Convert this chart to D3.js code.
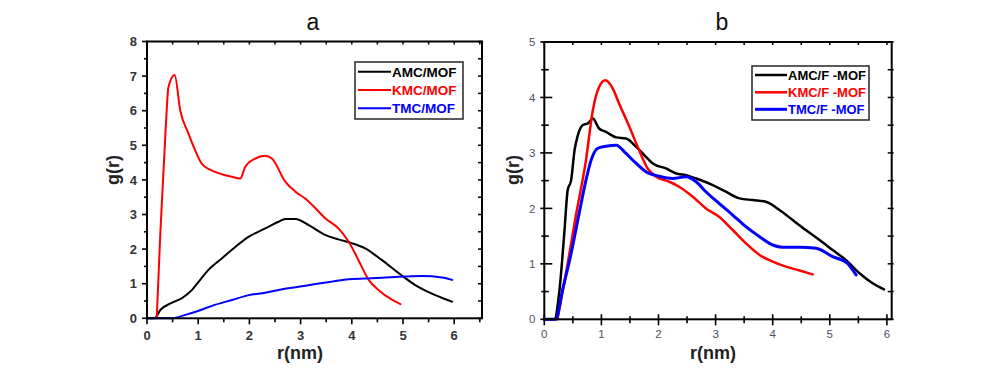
<!DOCTYPE html>
<html><head><meta charset="utf-8">
<script src="https://cdn.jsdelivr.net/npm/d3@7"></script>
<style>body{margin:0;background:#fff;}svg{display:block;font-family:Arial,"Liberation Sans",sans-serif;}</style>
</head><body>
<svg id="c" width="1000" height="369"></svg>
<script>
// ---- Panel a data ----
const amcMOF = [[0,0],[0.15,0],[0.26,0.24],[0.46,0.43],[0.68,0.58],[0.88,0.82],[1.01,1.06],[1.2,1.40],[1.46,1.73],[1.73,2.07],[1.99,2.36],[2.31,2.60],[2.57,2.79],[2.70,2.87],[2.90,2.87],[3.16,2.69],[3.48,2.41],[3.74,2.28],[4.0,2.17],[4.26,2.02],[4.59,1.68],[4.92,1.30],[5.24,0.96],[5.63,0.67],[5.96,0.48]];
const kmcMOF = [[0.19,0],[0.26,2.45],[0.36,5.34],[0.42,6.69],[0.54,7.03],[0.65,6.0],[0.81,5.34],[0.94,4.86],[1.07,4.47],[1.33,4.23],[1.66,4.09],[1.82,4.04],[1.92,4.38],[2.08,4.59],[2.31,4.70],[2.44,4.62],[2.70,3.95],[2.90,3.66],[3.09,3.46],[3.29,3.18],[3.48,2.89],[3.74,2.60],[3.94,2.21],[4.13,1.68],[4.33,1.11],[4.52,0.82],[4.79,0.53],[4.95,0.41]];
const tmcMOF = [[0,0],[0.49,0],[0.75,0.10],[1.01,0.22],[1.27,0.36],[1.66,0.53],[1.99,0.67],[2.31,0.74],[2.64,0.84],[2.96,0.91],[3.29,0.99],[3.61,1.06],[3.94,1.13],[4.26,1.15],[4.59,1.17],[4.92,1.20],[5.37,1.22],[5.76,1.18],[5.96,1.11]];
// ---- Panel b data ----
const amcFMOF = [[0,0],[0.175,0],[0.26,0.47],[0.35,1.55],[0.41,2.33],[0.47,2.51],[0.53,3.05],[0.58,3.29],[0.67,3.50],[0.76,3.53],[0.85,3.62],[0.96,3.44],[1.08,3.38],[1.26,3.28],[1.43,3.26],[1.61,3.11],[1.78,2.93],[1.90,2.81],[2.13,2.72],[2.31,2.63],[2.48,2.60],[2.71,2.52],[2.95,2.42],[3.18,2.30],[3.42,2.18],[3.65,2.15],[3.88,2.12],[4.12,1.97],[4.35,1.79],[4.58,1.61],[4.82,1.43],[5.05,1.25],[5.28,1.07],[5.52,0.83],[5.75,0.65],[5.95,0.54]];
const kmcFMOF = [[0.23,0],[0.38,0.83],[0.55,1.85],[0.73,2.87],[0.85,3.77],[0.96,4.19],[1.07,4.31],[1.20,4.16],[1.31,3.89],[1.49,3.47],[1.66,3.05],[1.81,2.72],[1.96,2.57],[2.19,2.48],[2.36,2.39],[2.60,2.21],[2.83,2.00],[3.06,1.85],[3.30,1.61],[3.53,1.37],[3.77,1.16],[4.0,1.04],[4.23,0.95],[4.47,0.88],[4.70,0.81]];
const tmcFMOF = [[0,0],[0.20,0],[0.32,0.53],[0.47,1.19],[0.61,1.91],[0.73,2.51],[0.82,2.87],[0.93,3.08],[1.08,3.12],[1.26,3.14],[1.43,2.99],[1.61,2.81],[1.78,2.66],[2.01,2.58],[2.25,2.54],[2.48,2.57],[2.66,2.48],[2.83,2.30],[3.06,2.09],[3.30,1.88],[3.53,1.67],[3.77,1.49],[4.0,1.34],[4.17,1.30],[4.47,1.30],[4.76,1.28],[5.05,1.13],[5.31,1.01],[5.40,0.89],[5.46,0.80]];

const titles = ["a","b"];
const xTicks = [0,1,2,3,4,5,6];
const yTicksA = [0,1,2,3,4,5,6,7,8];
const yTicksB = [0,1,2,3,4,5];
const legendA = ["AMC/MOF","KMC/MOF","TMC/MOF"];
const legendB = ["AMC/F -MOF","KMC/F -MOF","TMC/F -MOF"];
const colors = ["#000000","#ff0000","#0000ff"];

const svg = d3.select("#c");

function panel(o){
  const x = d3.scaleLinear().domain(o.xDom).range([o.left,o.right]);
  const y = d3.scaleLinear().domain(o.yDom).range([o.bottom,o.top]);
  const g = svg.append("g");
  // title
  g.append("text").attr("x",o.titleX).attr("y",30).attr("text-anchor","middle")
    .attr("font-size",23).attr("fill","#111").text(o.title);
  // series
  const line = d3.line().x(d=>x(d[0])).y(d=>y(d[1])).curve(d3.curveMonotoneX);
  o.series.forEach((s,i)=>{
    g.append("path").attr("d",line(s)).attr("fill","none").attr("stroke",colors[i])
      .attr("stroke-width",o.lw[i]).attr("stroke-linejoin","round").attr("stroke-linecap","round");
  });
  // frame
  g.append("rect").attr("x",o.left).attr("y",o.top).attr("width",o.right-o.left).attr("height",o.bottom-o.top)
    .attr("fill","none").attr("stroke","#000").attr("stroke-width",2);
  const minorX = d3.range(0, o.xDom[1]+0.001, 0.5);
  const minorY = d3.range(0, o.yDom[1]+0.001, 0.5);
  // bottom ticks
  minorX.forEach(v=>{
    const maj = Math.abs(v-Math.round(v))<1e-6;
    g.append("line").attr("x1",x(v)).attr("x2",x(v)).attr("y1",o.bottom-(o.inB?(maj?5:3):0)).attr("y2",o.bottom+(maj?6:4))
      .attr("stroke","#000").attr("stroke-width",1.6);
    // top ticks inward
    g.append("line").attr("x1",x(v)).attr("x2",x(v)).attr("y1",o.top).attr("y2",o.top+3)
      .attr("stroke","#000").attr("stroke-width",1.5);
  });
  minorY.forEach(v=>{
    const maj = Math.abs(v-Math.round(v))<1e-6;
    g.append("line").attr("y1",y(v)).attr("y2",y(v)).attr("x1",o.left-(maj?o.majOut:3)).attr("x2",o.left+(maj?o.majIn:o.minIn))
      .attr("stroke","#000").attr("stroke-width",1.6);
    g.append("line").attr("y1",y(v)).attr("y2",y(v)).attr("x1",o.right-4).attr("x2",o.right+(o.inB?2:0))
      .attr("stroke","#000").attr("stroke-width",1.5);
  });
  // tick labels
  xTicks.forEach(v=>{
    g.append("text").attr("x",x(v)).attr("y",o.xLabY).attr("text-anchor","middle")
      .attr("font-size",o.tickFs).attr("font-weight",o.tickFw).attr("fill",o.tickCol).text(v);
  });
  o.yTicks.forEach(v=>{
    g.append("text").attr("x",o.yLabX).attr("y",y(v)+o.tickFs*0.36).attr("text-anchor","end")
      .attr("font-size",o.tickFs).attr("font-weight",o.tickFw).attr("fill",o.tickCol).text(v);
  });
  // axis titles
  g.append("text").attr("x",(o.left+o.right)/2 - o.xTitleShift).attr("y",359).attr("text-anchor","middle")
    .attr("font-size",18).attr("font-weight","bold").attr("fill","#222").text("r(nm)");
  g.append("text").attr("transform",`translate(${o.yTitleX},170) rotate(-90)`).attr("text-anchor","middle")
    .attr("font-size",18).attr("font-weight","bold").attr("fill","#222").text("g(r)");
  // legend
  const L = o.leg;
  g.append("rect").attr("x",L.x).attr("y",L.y).attr("width",L.w).attr("height",L.h)
    .attr("fill","#fff").attr("stroke","#333").attr("stroke-width",1.6);
  o.legend.forEach((t,i)=>{
    const yy = L.rows[i];
    g.append("line").attr("x1",L.lx1).attr("x2",L.lx2).attr("y1",yy).attr("y2",yy)
      .attr("stroke",colors[i]).attr("stroke-width",o.lw[i]);
    g.append("text").attr("x",L.lx2+1).attr("y",yy+L.fs*0.36).attr("font-size",L.fs).attr("font-weight","bold")
      .attr("fill",colors[i]).text(t);
  });
}

panel({title:titles[0], titleX:313, left:147, right:482, top:41.5, bottom:318.3, xDom:[0,(482-147)/51.2], yDom:[0,8],
  series:[amcMOF,kmcMOF,tmcMOF], lw:[2,2,2], yTicks:yTicksA, tickFs:13, tickFw:"bold", tickCol:"#333",
  xLabY:340, yLabX:137, majOut:5, majIn:1, minIn:0, inB:false, xTitleShift:14.5, yTitleX:119,
  legend:legendA, leg:{x:355,y:62,w:108,h:57,rows:[71.7,90,108.3],lx1:358,lx2:391,fs:13.5}});

panel({title:titles[1], titleX:722, left:544.3, right:891.7, top:42, bottom:319.3, xDom:[0,(891.7-544.3)/57.1], yDom:[0,5],
  series:[amcFMOF,kmcFMOF,tmcFMOF], lw:[2.5,2.5,3], yTicks:yTicksB, tickFs:11.5, tickFw:"normal", tickCol:"#4a5068",
  xLabY:337.5, yLabX:535.5, majOut:4, majIn:8, minIn:4.5, inB:true, xTitleShift:5, yTitleX:519,
  legend:legendB, leg:{x:752,y:66,w:117,h:54,rows:[75,92.3,109.3],lx1:755,lx2:787,fs:13}});
</script>
</body></html>
